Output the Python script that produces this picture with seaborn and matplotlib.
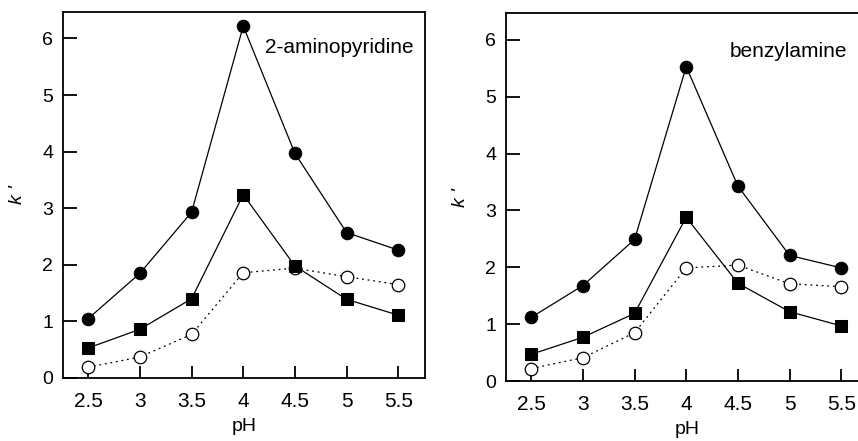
import numpy as np
import pandas as pd
import matplotlib
matplotlib.use("Agg")
import matplotlib.pyplot as plt
import seaborn as sns

# データ
ph = [2.5, 3, 3.5, 4, 4.5, 5, 5.5]

amino_circle = [1.05, 1.85, 2.93, 6.22, 3.97, 2.57, 2.26]
amino_square = [0.53, 0.86, 1.40, 3.24, 1.98, 1.39, 1.11]
amino_open = [0.19, 0.37, 0.77, 1.86, 1.94, 1.79, 1.65]

benzyl_circle = [1.12, 1.68, 2.49, 5.53, 3.43, 2.21, 1.99]
benzyl_square = [0.47, 0.77, 1.19, 2.88, 1.72, 1.22, 0.97]
benzyl_open = [0.22, 0.41, 0.85, 1.99, 2.04, 1.71, 1.66]

x_ticks = [2.5, 3, 3.5, 4, 4.5, 5, 5.5]
x_ticklabels = ["2.5", "3", "3.5", "4", "4.5", "5", "5.5"]
y_ticks = [0, 1, 2, 3, 4, 5, 6]

sns.set_style("ticks")
plt.rcParams['font.family'] = ['Liberation Sans', 'DejaVu Sans']
plt.rcParams.update({
    "text.color": "black",
    "axes.labelcolor": "black",
    "axes.edgecolor": "black",
    "xtick.color": "black",
    "ytick.color": "black",
})

fig = plt.figure(figsize=(8.58, 4.41), dpi=100)
ax1 = fig.add_axes([0.0734, 0.143, 0.422, 0.830])
ax2 = fig.add_axes([0.5897, 0.136, 0.422, 0.834])


def draw_panel(ax, circle, square, open_c, name, name_xy):
    # 白丸（点線）
    sns.lineplot(x=ph, y=open_c, ax=ax, color="black", lw=0.9,
                 linestyle=(0, (1.5, 3)), marker="o", markersize=9,
                 markerfacecolor="white", markeredgecolor="black",
                 markeredgewidth=0.9, zorder=3)
    # 黒四角
    sns.lineplot(x=ph, y=square, ax=ax, color="black", lw=0.9,
                 marker="s", markersize=8.7, markerfacecolor="black",
                 markeredgecolor="black", zorder=4)
    # 黒丸
    sns.lineplot(x=ph, y=circle, ax=ax, color="black", lw=0.9,
                 marker="o", markersize=9, markerfacecolor="black",
                 markeredgecolor="black", zorder=5)

    ax.set_xlim(2.255, 5.76)
    ax.set_ylim(0, 6.47)
    ax.set_xticks(x_ticks)
    ax.set_xticklabels(x_ticklabels)
    ax.set_yticks(y_ticks)
    ax.tick_params(axis="x", direction="in", length=9, width=1.3,
                   labelsize=15, pad=10)
    ax.tick_params(axis="y", direction="in", length=10, width=1.3,
                   labelsize=14, pad=7)
    for s in ax.spines.values():
        s.set_linewidth(1.3)
        s.set_visible(True)
    ax.set_xlabel("pH", fontsize=14, labelpad=5)
    ax.set_ylabel("k '", fontsize=14, fontstyle="italic", labelpad=12)
    ax.text(name_xy[0], name_xy[1], name, fontsize=15, ha="left",
            va="center")


draw_panel(ax1, amino_circle, amino_square, amino_open,
           "2-aminopyridine", (4.215, 5.84))
draw_panel(ax2, benzyl_circle, benzyl_square, benzyl_open,
           "benzylamine", (4.42, 5.8))

fig.savefig("out.png", dpi=100)
